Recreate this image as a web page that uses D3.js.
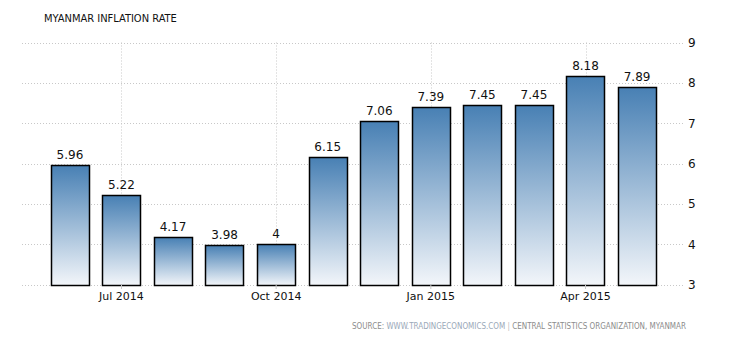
<!DOCTYPE html>
<html>
<head>
<meta charset="utf-8">
<script src="https://cdn.jsdelivr.net/npm/d3@7"></script>
<style>
  body { margin: 0; background: #fff; }
  svg { display: block; }
  .grid line { stroke: #c8c8c8; stroke-dasharray: 1,2; }
  .lbl { font-family: Tahoma, "DejaVu Sans", sans-serif; fill: #111; }
  .cond { font-family: "DejaVu Sans Condensed", "DejaVu Sans", sans-serif; font-stretch: condensed; }
</style>
</head>
<body>
<div id="chart"></div>
<script>
var months = ["Jun 2014", "Jul 2014", "Aug 2014", "Sep 2014", "Oct 2014", "Nov 2014",
              "Dec 2014", "Jan 2015", "Feb 2015", "Mar 2015", "Apr 2015", "May 2015"];
var rates = [5.96, 5.22, 4.17, 3.98, 4, 6.15, 7.06, 7.39, 7.45, 7.45, 8.18, 7.89];
var xTicks = ["Jul 2014", "Oct 2014", "Jan 2015", "Apr 2015"];
var yTicks = [3, 4, 5, 6, 7, 8, 9];

function init() {
  var w = 730;
  var h = 340;

  var svg = d3.select("#chart")
    .append("svg")
    .attr("width", w)
    .attr("height", h);

  var grad = svg.append("defs").append("linearGradient")
    .attr("id", "barGrad")
    .attr("x1", 0).attr("y1", 0).attr("x2", 0).attr("y2", 1);
  grad.append("stop").attr("offset", "0%").attr("stop-color", "#4880b4");
  grad.append("stop").attr("offset", "100%").attr("stop-color", "#f3f6fa");

  var xScale = d3.scaleBand()
    .domain(months)
    .range([44, 663])
    .paddingInner(0.255)
    .paddingOuter(0.13);

  var yScale = d3.scaleLinear()
    .domain([3, 9])
    .range([284.5, 42.5]);

  // horizontal grid
  svg.append("g")
    .attr("class", "grid")
    .selectAll("line")
    .data(yTicks)
    .enter().append("line")
    .attr("x1", 22)
    .attr("x2", 684)
    .attr("y1", function(d) { return Math.round(yScale(d)) + 0.5; })
    .attr("y2", function(d) { return Math.round(yScale(d)) + 0.5; });

  // vertical grid at quarter ticks
  svg.append("g")
    .attr("class", "grid")
    .selectAll("line")
    .data(xTicks)
    .enter().append("line")
    .attr("x1", function(d) { return Math.round(xScale(d) + xScale.bandwidth() / 2) + 0.5; })
    .attr("x2", function(d) { return Math.round(xScale(d) + xScale.bandwidth() / 2) + 0.5; })
    .attr("y1", yScale(9))
    .attr("y2", yScale(3));

  // bars
  svg.append("g")
    .selectAll("rect")
    .data(rates)
    .enter().append("rect")
    .attr("x", function(d, i) { return Math.round(xScale(months[i])) + 0.5; })
    .attr("y", function(d) { return Math.round(yScale(d)) + 0.5; })
    .attr("width", Math.round(xScale.bandwidth()))
    .attr("height", function(d) { return Math.round(yScale(3)) - Math.round(yScale(d)); })
    .attr("fill", "url(#barGrad)")
    .attr("stroke", "#000")
    .attr("stroke-width", 1.5);

  // value labels
  svg.append("g")
    .selectAll("text")
    .data(rates)
    .enter().append("text")
    .attr("class", "lbl")
    .attr("x", function(d, i) { return xScale(months[i]) + xScale.bandwidth() / 2; })
    .attr("y", function(d) { return yScale(d) - 6; })
    .attr("text-anchor", "middle")
    .attr("font-size", "12px")
    .text(function(d) { return d; });

  // x axis
  var xAxis = d3.axisBottom(xScale)
    .tickValues(xTicks)
    .tickSize(4)
    .tickPadding(3);

  var gx = svg.append("g")
    .attr("transform", "translate(0," + Math.round(yScale(3)) + ")")
    .call(xAxis);
  gx.select(".domain").remove();
  gx.selectAll(".tick line").attr("stroke", "#c8c8c8");
  gx.selectAll("text")
    .attr("class", "lbl")
    .attr("font-size", "11px")
    .attr("fill", "#111");

  // y axis on right
  var yAxis = d3.axisRight(yScale)
    .tickValues(yTicks)
    .tickFormat(d3.format("d"))
    .tickSize(0)
    .tickPadding(5);

  var gy = svg.append("g")
    .attr("transform", "translate(683,0)")
    .call(yAxis);
  gy.select(".domain").remove();
  gy.selectAll("text")
    .attr("class", "lbl")
    .attr("font-size", "12px")
    .attr("fill", "#111");

  // title
  svg.append("text")
    .attr("class", "lbl cond")
    .attr("x", 44)
    .attr("y", 22)
    .attr("font-size", "11px")
    .text("MYANMAR INFLATION RATE");

  // source
  var src = svg.append("text")
    .attr("class", "cond")
    .attr("x", 686)
    .attr("y", 329)
    .attr("text-anchor", "end")
    .attr("font-size", "8px")
    .attr("fill", "#8c8c8c");
  src.append("tspan").text("SOURCE: ");
  src.append("tspan").attr("fill", "#9aa8b8").text("WWW.TRADINGECONOMICS.COM");
  src.append("tspan").attr("fill", "#bbb").text(" | ");
  src.append("tspan").text("CENTRAL STATISTICS ORGANIZATION, MYANMAR");
}

window.onload = init;
</script>
</body>
</html>
